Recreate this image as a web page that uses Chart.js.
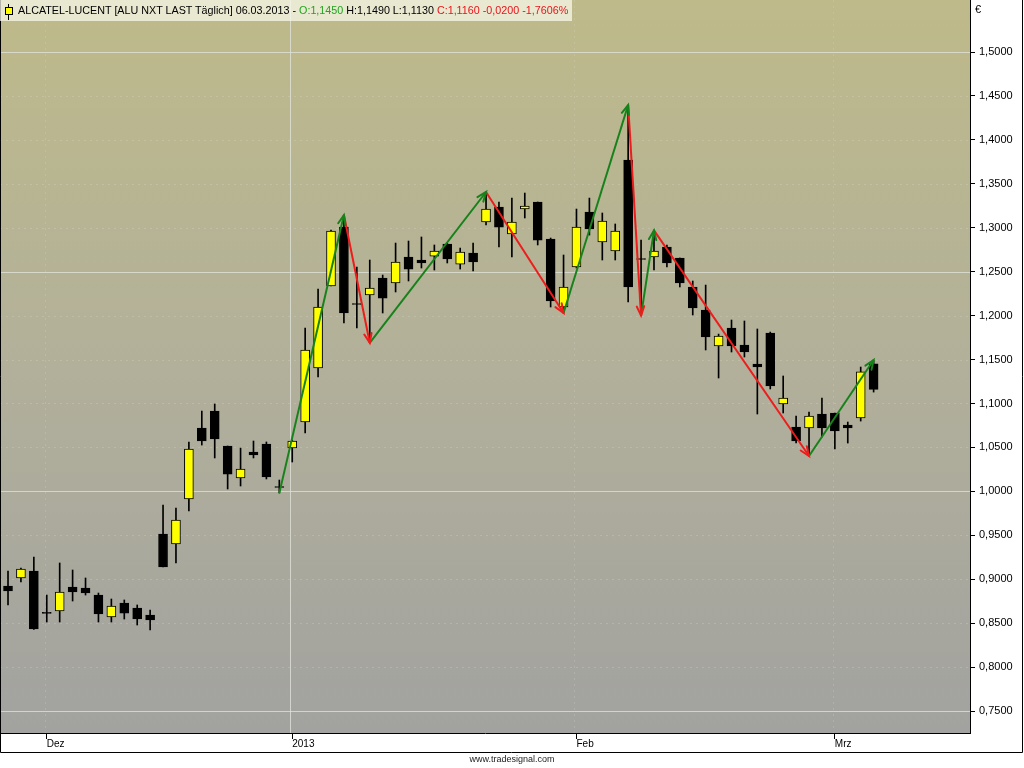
<!DOCTYPE html>
<html>
<head>
<meta charset="utf-8">
<title>ALCATEL-LUCENT</title>
<script src="https://cdn.jsdelivr.net/npm/chart.js@4.4.1/dist/chart.umd.min.js"></script>
<style>
    body { margin: 0; background: #fff; }
    #wrap { position: relative; width: 1024px; height: 768px; overflow: hidden; }
    #chart { position: absolute; left: 0; top: 0; }
    #hdr {
        position: absolute; left: 0; top: 0; height: 21px; padding: 0 4px 0 3px;
        background: rgba(250, 249, 235, 0.72);
        font: 10.75px "Liberation Sans", Arial, sans-serif; line-height: 21px; color: #000;
        white-space: nowrap;
    }
    #hdr .ico {
        display: inline-block; position: relative; width: 6px; height: 6px; margin: 0 5px 0 2px;
        background: #ffff00; border: 1px solid #000; vertical-align: -1px;
    }
    #hdr .ico::before {
        content: ""; position: absolute; left: 2px; top: -4px; width: 1px; height: 16px; background: #000;
    }
    #hdr .ico::after {
        content: ""; position: absolute; left: 0; top: 0; width: 6px; height: 6px; background: #ffff00;
    }
    #euro { position: absolute; left: 975px; top: 3px; font: 11px "Liberation Sans", Arial, sans-serif; }
    #foot {
        position: absolute; left: 0; width: 1024px; top: 754px; text-align: center;
        font: 9px "Liberation Sans", Arial, sans-serif; color: #222;
    }
</style>
</head>
<body>
<div id="wrap">
    <canvas id="chart" width="1024" height="768"></canvas>
    <div id="hdr"><span class="ico"></span>ALCATEL-LUCENT [ALU NXT LAST Täglich] 06.03.2013 - <span style="color:#1fa51f">O:1,1450</span> H:1,1490 L:1,1130 <span style="color:#e8141b">C:1,1160 -0,0200 -1,7606%</span></div>
    <div id="euro">€</div>
    <div id="foot">www.tradesignal.com</div>
</div>
<script>
// Trading days (one candle each)
const dates = [
    '2012-11-28', '2012-11-29', '2012-11-30',
    '2012-12-03', '2012-12-04', '2012-12-05', '2012-12-06', '2012-12-07',
    '2012-12-10', '2012-12-11', '2012-12-12', '2012-12-13', '2012-12-14',
    '2012-12-17', '2012-12-18', '2012-12-19', '2012-12-20', '2012-12-21',
    '2012-12-24', '2012-12-27', '2012-12-28', '2012-12-31',
    '2013-01-02', '2013-01-03', '2013-01-04',
    '2013-01-07', '2013-01-08', '2013-01-09', '2013-01-10', '2013-01-11',
    '2013-01-14', '2013-01-15', '2013-01-16', '2013-01-17', '2013-01-18',
    '2013-01-21', '2013-01-22', '2013-01-23', '2013-01-24', '2013-01-25',
    '2013-01-28', '2013-01-29', '2013-01-30', '2013-01-31', '2013-02-01',
    '2013-02-04', '2013-02-05', '2013-02-06', '2013-02-07', '2013-02-08',
    '2013-02-11', '2013-02-12', '2013-02-13', '2013-02-14', '2013-02-15',
    '2013-02-18', '2013-02-19', '2013-02-20', '2013-02-21', '2013-02-22',
    '2013-02-25', '2013-02-26', '2013-02-27', '2013-02-28', '2013-03-01',
    '2013-03-04', '2013-03-05', '2013-03-06'
];

// OHLC
const open = [
    0.8923, 0.9014, 0.9094, 0.8622, 0.8638, 0.8911, 0.8900, 0.8820, 0.8570, 0.8729,
    0.8673, 0.8593, 0.9515, 0.9401, 0.9913, 1.0721, 1.0914, 1.0516, 1.0152, 1.0448,
    1.0539, 1.0055, 1.0493, 1.0789, 1.1404, 1.2337, 1.3008, 1.2137, 1.2235, 1.2428,
    1.2371, 1.2667, 1.2633, 1.2678, 1.2815, 1.2587, 1.2713, 1.3065, 1.3236, 1.2929,
    1.3213, 1.3293, 1.2872, 1.2098, 1.2553, 1.3179, 1.2838, 1.2735, 1.3771, 1.2649,
    1.2667, 1.2781, 1.2656, 1.2326, 1.2064, 1.1654, 1.1859, 1.1666, 1.1449, 1.1802,
    1.0994, 1.0732, 1.0721, 1.0880, 1.0892, 1.0755, 1.0835, 1.1450
];
const high = [
    0.9094, 0.9128, 0.9253, 0.8820, 0.9185, 0.9105, 0.9014, 0.8843, 0.8775, 0.8764,
    0.8707, 0.8650, 0.9845, 0.9811, 1.0562, 1.0914, 1.0994, 1.0516, 1.0493, 1.0573,
    1.0562, 1.0129, 1.0584, 1.1859, 1.2303, 1.2974, 1.3145, 1.2553, 1.2633, 1.2462,
    1.2826, 1.2849, 1.2895, 1.2804, 1.2826, 1.2769, 1.2826, 1.3407, 1.3293, 1.3338,
    1.3395, 1.3293, 1.2883, 1.2690, 1.3213, 1.3338, 1.3168, 1.3043, 1.4397, 1.2860,
    1.2974, 1.2804, 1.2656, 1.2394, 1.2348, 1.1790, 1.1950, 1.1939, 1.1848, 1.1813,
    1.1313, 1.0857, 1.0903, 1.1062, 1.0892, 1.0789, 1.1415, 1.1490
];
const low = [
    0.8707, 0.8968, 0.8430, 0.8513, 0.8513, 0.8752, 0.8820, 0.8513, 0.8513, 0.8547,
    0.8479, 0.8422, 0.9139, 0.9185, 0.9777, 1.0527, 1.0380, 1.0027, 1.0061, 1.0380,
    1.0141, 0.9981, 1.0334, 1.0664, 1.1301, 1.2337, 1.1916, 1.1859, 1.1688, 1.2030,
    1.2269, 1.2394, 1.2542, 1.2519, 1.2599, 1.2530, 1.2508, 1.3031, 1.2781, 1.2667,
    1.3111, 1.2804, 1.2098, 1.2030, 1.2542, 1.2917, 1.2633, 1.2633, 1.2155, 1.2007,
    1.2519, 1.2553, 1.2326, 1.2007, 1.1609, 1.1290, 1.1586, 1.1529, 1.0880, 1.1165,
    1.0892, 1.0550, 1.0402, 1.0619, 1.0482, 1.0550, 1.0800, 1.1130
];
const close = [
    0.8866, 0.9116, 0.8434, 0.8612, 0.8855, 0.8855, 0.8843, 0.8604, 0.8695, 0.8615,
    0.8547, 0.8536, 0.9139, 0.9674, 1.0482, 1.0573, 1.0596, 1.0197, 1.0254, 1.0414,
    1.0163, 1.0045, 1.0573, 1.1609, 1.2098, 1.2963, 1.2030, 1.2127, 1.2314, 1.2200,
    1.2610, 1.2530, 1.2599, 1.2735, 1.2644, 1.2724, 1.2610, 1.3213, 1.3008, 1.3065,
    1.3247, 1.2860, 1.2166, 1.2326, 1.3008, 1.2986, 1.3077, 1.2963, 1.2326, 1.2639,
    1.2735, 1.2599, 1.2371, 1.2087, 1.1757, 1.1768, 1.1654, 1.1586, 1.1415, 1.1199,
    1.1062, 1.0573, 1.0857, 1.0721, 1.0687, 1.0721, 1.1360, 1.1160
];

// Zigzag swing points (candle index, price)
const zigIdx = [21, 26, 28, 37, 43, 48, 49, 50, 62, 67];
const zigVal = [0.9980, 1.3145, 1.1690, 1.3407, 1.2030, 1.4397, 1.2000, 1.2970, 1.0402, 1.1495];

// Axis labels
const monthLabels = ['Dez', '2013', 'Feb', 'Mrz'];
const yTicks = [0.75, 0.80, 0.85, 0.90, 0.95, 1.00, 1.05, 1.10, 1.15, 1.20, 1.25, 1.30, 1.35, 1.40, 1.45, 1.50];

const UP_COLOR = '#ffff00';
const DOWN_COLOR = '#000000';
const ZIG_UP = '#17821b';
const ZIG_DOWN = '#ee1c1c';

// first candle of each new month
const monthStarts = [];
for (let i = 1; i < dates.length; i++) {
    if (dates[i].slice(0, 7) !== dates[i - 1].slice(0, 7)) monthStarts.push(i);
}

// Plot background + grid
const backdropPlugin = {
    id: 'backdrop',
    beforeDatasetsDraw(chart) {
        const { ctx, chartArea: a, scales } = chart;
        ctx.save();
        const g = ctx.createLinearGradient(0, a.top, 0, a.bottom);
        g.addColorStop(0, '#bebA8a');
        g.addColorStop(0.5, '#b2b09a');
        g.addColorStop(1, '#a2a2a0');
        ctx.fillStyle = g;
        ctx.fillRect(a.left, a.top, a.right - a.left, a.bottom - a.top);

        // horizontal grid
        yTicks.forEach(v => {
            const y = Math.round(scales.y.getPixelForValue(v)) + 0.5;
            const major = Math.round(v * 100) % 25 === 0;
            ctx.beginPath();
            ctx.setLineDash(major ? [] : [2, 4]);
            ctx.strokeStyle = major ? 'rgba(225, 228, 220, 0.75)' : 'rgba(225, 225, 215, 0.25)';
            ctx.lineWidth = 1;
            ctx.moveTo(a.left, y);
            ctx.lineTo(a.right, y);
            ctx.stroke();
        });

        // vertical grid at month starts, year change solid
        monthStarts.forEach(i => {
            const x = Math.round(scales.x.getPixelForValue(i)) - 1.5;
            const yearChange = dates[i].slice(0, 4) !== dates[i - 1].slice(0, 4);
            ctx.beginPath();
            ctx.setLineDash(yearChange ? [] : [2, 4]);
            ctx.strokeStyle = yearChange ? 'rgba(225, 228, 220, 0.75)' : 'rgba(225, 225, 215, 0.22)';
            ctx.moveTo(x, a.top);
            ctx.lineTo(x, a.bottom);
            ctx.stroke();
        });
        ctx.restore();
    },
    afterDraw(chart) {
        const { ctx } = chart;
        // outer frame
        ctx.save();
        ctx.strokeStyle = '#000';
        ctx.lineWidth = 1;
        ctx.beginPath();
        ctx.moveTo(0.5, 0);
        ctx.lineTo(0.5, 752.5);
        ctx.lineTo(1022.5, 752.5);
        ctx.lineTo(1022.5, 0);
        ctx.stroke();
        ctx.restore();
    }
};

// Arrow heads at the end of every zigzag leg
const arrowPlugin = {
    id: 'arrows',
    afterDatasetsDraw(chart) {
        const meta = chart.getDatasetMeta(0);
        const pts = meta.data;
        const { ctx } = chart;
        ctx.save();
        ctx.lineWidth = 2;
        ctx.lineCap = 'round';
        for (let i = 1; i < pts.length; i++) {
            const p0 = pts[i - 1], p1 = pts[i];
            const ang = Math.atan2(p1.y - p0.y, p1.x - p0.x);
            const len = 10, spread = 0.38;
            ctx.strokeStyle = zigVal[i] > zigVal[i - 1] ? ZIG_UP : ZIG_DOWN;
            ctx.beginPath();
            ctx.moveTo(p1.x - len * Math.cos(ang - spread), p1.y - len * Math.sin(ang - spread));
            ctx.lineTo(p1.x, p1.y);
            ctx.lineTo(p1.x - len * Math.cos(ang + spread), p1.y - len * Math.sin(ang + spread));
            ctx.stroke();
        }
        ctx.restore();
    }
};

const wickData = dates.map((d, i) => ({ x: i, y: [low[i], high[i]] }));
const bodyData = dates.map((d, i) => ({ x: i, y: [open[i], close[i]] }));
const bodyColors = dates.map((d, i) => (close[i] >= open[i] ? UP_COLOR : DOWN_COLOR));
const zigData = zigIdx.map((x, i) => ({ x: x, y: zigVal[i] }));

// no extra label padding, the plot runs edge to edge
function noPad(s) {
    s.paddingTop = 0;
    s.paddingBottom = 0;
    s.paddingLeft = 0;
    s.paddingRight = 0;
}

const ctx = document.getElementById('chart');

new Chart(ctx, {
    type: 'bar',
    data: {
        datasets: [
            {
                type: 'line',
                label: 'ZigZag',
                data: zigData,
                borderWidth: 2,
                pointRadius: 0,
                tension: 0,
                order: 0,
                segment: {
                    borderColor: c => (c.p1.parsed.y > c.p0.parsed.y ? ZIG_UP : ZIG_DOWN)
                }
            },
            {
                label: 'Body',
                data: bodyData,
                backgroundColor: bodyColors,
                borderColor: '#000',
                borderWidth: 1,
                borderSkipped: false,
                barThickness: 9,
                grouped: false,
                order: 1
            },
            {
                label: 'Wick',
                data: wickData,
                backgroundColor: '#000',
                borderWidth: 0,
                barThickness: 1,
                grouped: false,
                order: 2
            }
        ]
    },
    options: {
        responsive: false,
        animation: false,
        layout: { padding: { left: 0, top: 0, right: 2, bottom: 16 } },
        plugins: {
            legend: { display: false },
            tooltip: { enabled: false }
        },
        scales: {
            x: {
                type: 'linear',
                min: -0.62,
                max: 74.46,
                offset: false,
                afterFit: s => { s.height = 19; noPad(s); },
                afterBuildTicks: s => { s.ticks = monthStarts.map(v => ({ value: v })); },
                grid: { drawOnChartArea: false, offset: false, tickLength: 6, tickColor: '#000', tickWidth: 1 },
                border: { display: true, color: '#000', width: 1 },
                ticks: {
                    autoSkip: false,
                    maxRotation: 0,
                    align: 'start',
                    padding: -1,
                    color: '#000',
                    font: { family: 'Liberation Sans', size: 10 },
                    callback: (v, idx) => monthLabels[idx]
                }
            },
            y: {
                position: 'right',
                min: 0.725,
                max: 1.5592,
                afterFit: s => { s.width = 52; noPad(s); },
                afterBuildTicks: s => { s.ticks = yTicks.map(v => ({ value: v })); },
                grid: { drawOnChartArea: false, tickLength: 5, tickColor: '#000', tickWidth: 1 },
                border: { display: true, color: '#000', width: 1 },
                ticks: {
                    padding: 4,
                    color: '#000',
                    font: { family: 'Liberation Sans', size: 11 },
                    callback: v => v.toFixed(4).replace('.', ',')
                }
            }
        }
    },
    plugins: [backdropPlugin, arrowPlugin]
});
</script>
</body>
</html>
